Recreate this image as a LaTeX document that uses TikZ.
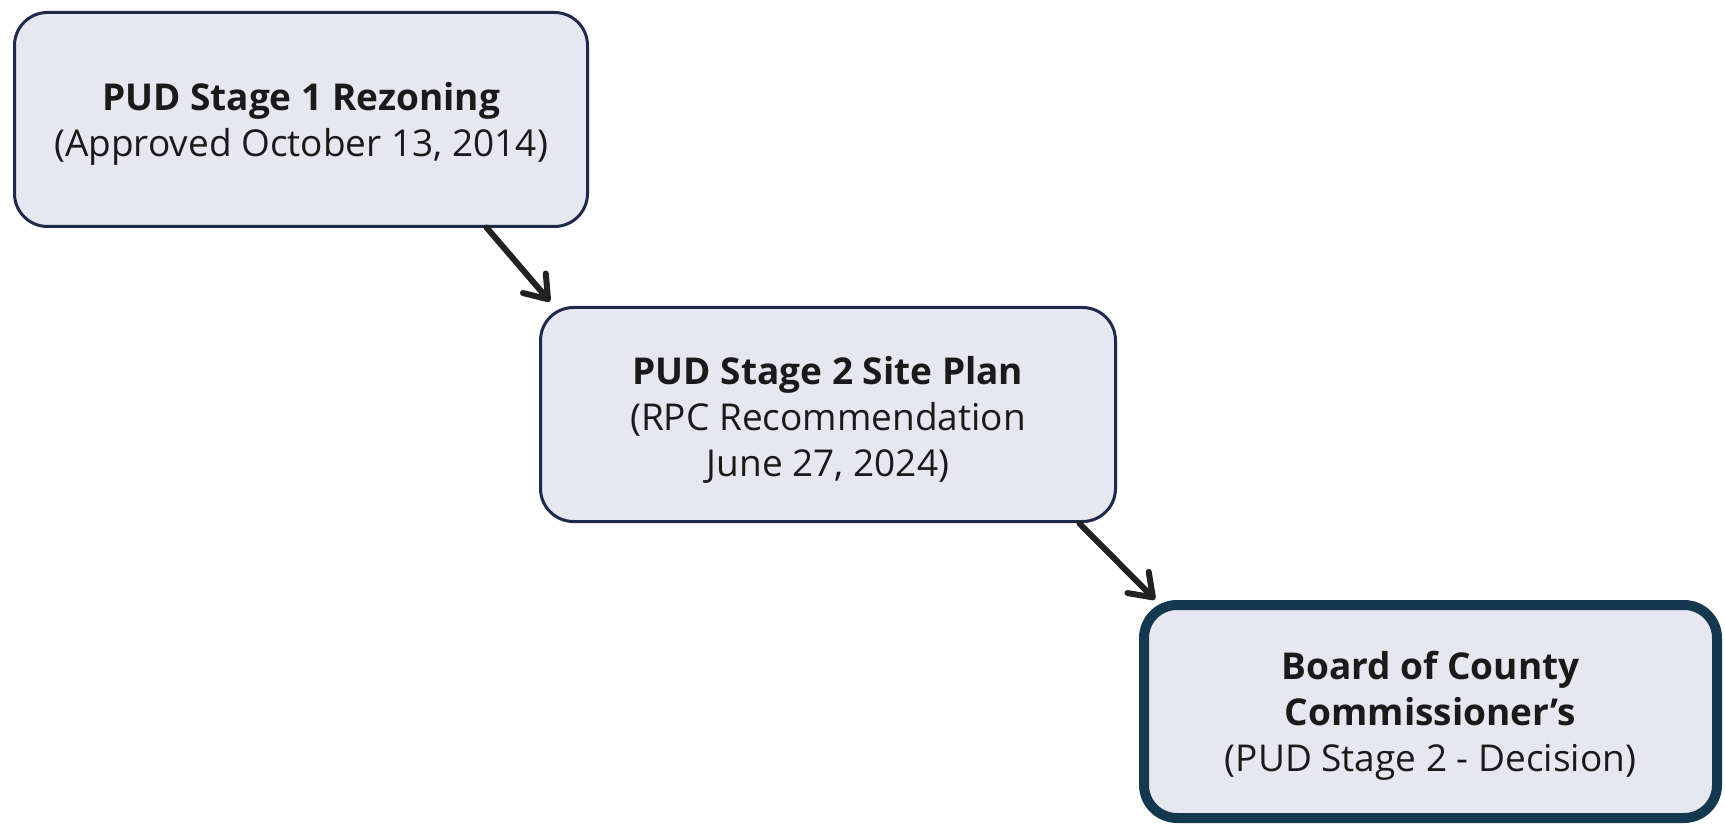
\documentclass[tikz,border=0pt]{standalone}
\usepackage{fontspec}
\setmainfont{Open Sans}
\usetikzlibrary{arrows.meta,calc}
\definecolor{boxfill}{HTML}{E7E7F1}
\definecolor{boxline}{HTML}{1E2A4A}
\definecolor{finalline}{HTML}{14394F}
\definecolor{arrowcol}{HTML}{222222}
\definecolor{txt}{HTML}{1A1A1A}
\begin{document}
\begin{tikzpicture}[x=1pt,y=-1pt,
  stagebox/.style={draw=boxline, line width=3pt, fill=boxfill, rounded corners=33pt,
    inner sep=0pt, outer sep=0pt},
  finalbox/.style={stagebox, draw=finalline, line width=10pt},
  boxtext/.style={inner sep=0pt, align=center, text=txt,
    font=\fontsize{37}{46}\selectfont},
  flow/.style={draw=arrowcol, line width=6pt, line cap=round,
    -{Straight Barb[length=21pt,width=30pt,line cap=round,line join=round]}}]
\useasboundingbox (0,0) rectangle (1725,826);
\node[stagebox, minimum width=573pt, minimum height=214pt] (b1) at (301,119.5) {};
\node[stagebox, minimum width=575pt, minimum height=214pt] (b2) at (828,414.5) {};
\node[finalbox, minimum width=573pt, minimum height=213pt] (b3) at (1430.5,711.5) {};
\node[boxtext] (t1) at ($(b1.center)+(0,4.5)$)
  {\textbf{PUD Stage 1 Rezoning}\\(Approved October 13, 2014)};
\node[boxtext] (t2) at ($(b2.center)+(0,5)$)
  {\textbf{PUD Stage 2 Site Plan}\\(RPC Recommendation\\June 27, 2024)};
\node[boxtext] (t3) at ($(b3.center)+(0,4.5)$)
  {\textbf{Board of County}\\\textbf{Commissioner’s}\\(PUD Stage 2 - Decision)};
\draw[flow] ($(b1.south east)+(-101,1)$) -- ($(b2.north west)+(9.5,-6)$);
\draw[flow] ($(b2.south east)+(-36,2)$) -- ($(b3.north west)+(11,-5.5)$);
\end{tikzpicture}
\end{document}
